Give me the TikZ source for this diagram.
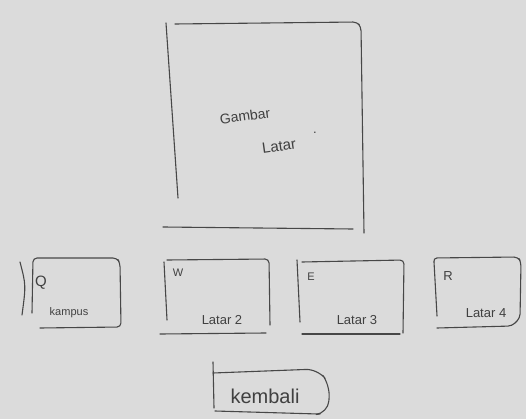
\documentclass[tikz,border=0pt]{standalone}
\usepackage{fontspec}
\setmainfont{Liberation Sans}
\begin{document}
\begin{tikzpicture}[x=1pt,y=-1pt,
  pen/.style={draw=black!72, line width=1.1pt, line cap=round, line join=round, rounded corners=4pt},
  hand/.style={text=black!75, inner sep=0pt, font=\fontsize{13}{14}\selectfont}]
\fill[black!14] (0,0) rectangle (526,419);
\useasboundingbox (0,0) rectangle (526,419);
% big picture frame
\draw[pen] (166,23) -- (178,198);
\draw[pen] (175,24) -- (357,22) -- (361,27) -- (364,233);
\draw[pen] (163,227) -- (353,229);
\node[hand, rotate=8, font=\fontsize{14}{15}\selectfont] (gambar) at (245,116) {Gambar};
\node[hand, rotate=8, font=\fontsize{15}{16}\selectfont] (latar) at (279,146) {Latar};
\node[hand] (dot) at (315,133) {.};
% Q box
\draw[pen, rounded corners=0pt] (20,262) .. controls (26,285) .. (22,315);
\draw[pen] (32,313) -- (33,258) -- (117,258) -- (120,263) -- (121,327) -- (40,328);
\node[hand, font=\fontsize{15}{16}\selectfont] (q) at (41,283) {Q};
\node[hand, font=\fontsize{11}{12}\selectfont] (kampus) at (69,313) {kampus};
% W box
\draw[pen] (164,262) -- (167,320);
\draw[pen] (167,260) -- (269,259) -- (270,325);
\draw[pen] (160,334) -- (266,333);
\node[hand, font=\fontsize{11}{12}\selectfont] (w) at (178,273) {W};
\node[hand] (latar2) at (222,320) {Latar 2};
% E box
\draw[pen] (297,260) -- (300,322);
\draw[pen] (302,262) -- (404,260) -- (403,333);
\draw[pen] (302,334) -- (400,334);
\node[hand, font=\fontsize{11}{12}\selectfont] (e) at (311,277) {E};
\node[hand] (latar3) at (357,320) {Latar 3};
% R box
\draw[pen] (434,262) -- (433,258) -- (518,257) -- (521,262) -- (520,318) -- (512,326) -- (437,328);
\draw[pen] (434,262) -- (437,316);
\node[hand, font=\fontsize{13}{14}\selectfont] (r) at (448,276) {R};
\node[hand] (latar4) at (486,313) {Latar 4};
% kembali box
\draw[pen, rounded corners=0pt] (213,362) -- (214,408);
\draw[pen, rounded corners=12pt] (213,373) -- (318,369) -- (330,385) -- (328,413) -- (320,414);
\draw[pen] (215,411) -- (318,414);
\node[hand, font=\fontsize{20}{21}\selectfont] (kembali) at (265,396) {kembali};
\end{tikzpicture}
\end{document}
